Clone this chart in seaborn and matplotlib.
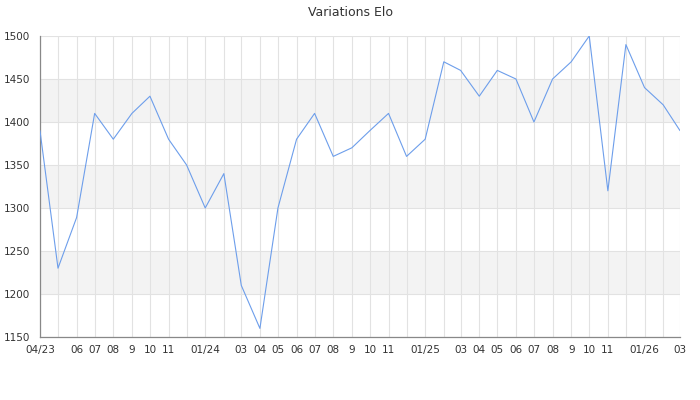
import matplotlib
matplotlib.use("Agg")
import matplotlib.pyplot as plt
import matplotlib.dates as mdates
from matplotlib.ticker import MultipleLocator
import numpy as np
import pandas as pd
import seaborn as sns

# Monthly Elo values, 04/2023 .. 03/2026
MONTHS = pd.date_range("2023-04-01", "2026-03-01", freq="MS")
ELO = [
    1390, 1230, 1289, 1410, 1380, 1410, 1430, 1380, 1350, 1300, 1340, 1210,
    1160, 1300, 1380, 1410, 1360, 1370, 1390, 1410, 1360, 1380, 1470, 1460,
    1430, 1460, 1450, 1400, 1450, 1470, 1500, 1320, 1490, 1440, 1420, 1390,
]
# label shown under each monthly gridline ("" = hidden label)
TICK_LABELS = [
    "04/23", "", "06", "07", "08", "9", "10", "11", "", "01/24", "", "03",
    "04", "05", "06", "07", "08", "9", "10", "11", "", "01/25", "", "03",
    "04", "05", "06", "07", "08", "9", "10", "11", "", "01/26", "", "03",
]
Y_MIN, Y_MAX, Y_STEP = 1150, 1500, 50

LINE = "#6d9eeb"
GRID = "#e2e2e2"
BAND = "#f3f3f3"
AXIS = "#888888"
TEXT = "#333333"

sns.set_style("white")
plt.rcParams["font.family"] = ["DejaVu Sans"]

df = pd.DataFrame({"month": MONTHS, "elo": ELO})

fig = plt.figure(figsize=(7, 4), dpi=100)
ax = fig.add_axes([0.0571, 0.1575, 0.9143, 0.7525])

# alternating horizontal bands
for lo in range(Y_MIN, Y_MAX, Y_STEP):
    if ((lo - Y_MIN) // Y_STEP) % 2 == 1:
        ax.axhspan(lo, lo + Y_STEP, color=BAND, zorder=0, lw=0)

sns.lineplot(data=df, x="month", y="elo", ax=ax, color=LINE, lw=0.8, zorder=3)

ax.set_xlim(MONTHS[0], MONTHS[-1])
ax.set_ylim(Y_MIN, Y_MAX)
ax.set_xticks(MONTHS)
ax.set_xticklabels(TICK_LABELS)
ax.yaxis.set_major_locator(MultipleLocator(Y_STEP))
ax.yaxis.set_minor_locator(MultipleLocator(10))

ax.grid(True, which="major", color=GRID, lw=0.8, zorder=1)
ax.set_axisbelow(True)

ax.tick_params(axis="x", length=0, pad=6, labelsize=7.5, colors=TEXT)
ax.tick_params(axis="y", which="major", length=5, width=0.8, color=AXIS,
               labelsize=7.5, labelcolor=TEXT, pad=2)
ax.tick_params(axis="y", which="minor", length=2.5, width=0.8, color=AXIS)

for side in ("top", "right"):
    ax.spines[side].set_visible(False)
for side in ("left", "bottom"):
    ax.spines[side].set_color(AXIS)
    ax.spines[side].set_linewidth(0.9)

ax.set_xlabel("")
ax.set_ylabel("")
fig.suptitle("Variations Elo", y=0.985, fontsize=9, color=TEXT)

fig.savefig("out.png", dpi=100)
